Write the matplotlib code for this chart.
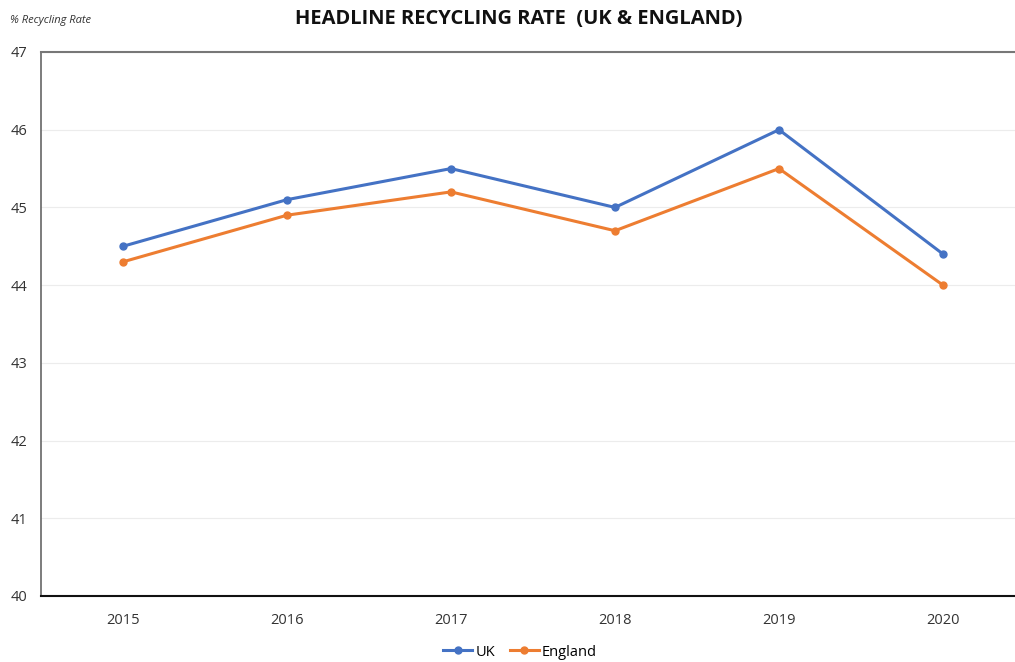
import matplotlib
matplotlib.use("Agg")
import matplotlib.pyplot as plt

years = ["2015", "2016", "2017", "2018", "2019", "2020"]
uk = [44.5, 45.1, 45.5, 45.0, 46.0, 44.4]
england = [44.3, 44.9, 45.2, 44.7, 45.5, 44.0]
yticks = [40, 41, 42, 43, 44, 45, 46, 47]

plt.rcParams['font.family'] = ['Open Sans', 'DejaVu Sans']

fig = plt.figure(figsize=(10.15, 6.62), dpi=100)
W, H = 1015, 662
left, right, top, bottom = 41, 1015, 52, 596
ax = fig.add_axes([left / W, 1 - bottom / H, (right - left) / W, (bottom - top) / H])

x = list(range(len(years)))
ax.plot(x, uk, color="#4472C4", lw=2.2, marker="o", ms=5, label="UK", solid_joinstyle="round")
ax.plot(x, england, color="#ED7D31", lw=2.2, marker="o", ms=5, label="England", solid_joinstyle="round")

ax.set_xlim(-0.5, -0.5 + (right - left) / 164)
ax.set_ylim(40, 47)
ax.set_yticks(yticks)
ax.set_xticks(x)
ax.set_xticklabels(years)
ax.tick_params(axis="both", length=0, labelsize=10.5, colors="#333333")
ax.tick_params(axis="x", pad=12)
ax.tick_params(axis="y", pad=10)
ax.grid(axis="y", color="#ececec", lw=0.8)
ax.set_axisbelow(True)

ax.spines["top"].set_color("#777777")
ax.spines["top"].set_linewidth(1.5)
ax.spines["left"].set_color("#666666")
ax.spines["left"].set_linewidth(1.2)
ax.spines["bottom"].set_color("#111111")
ax.spines["bottom"].set_linewidth(1.5)
ax.spines["right"].set_visible(False)

fig.text(519 / W, 1 - 19 / H, "HEADLINE RECYCLING RATE  (UK & ENGLAND)", ha="center", va="center",
         fontsize=14.5, fontweight="bold", color="#111111")
fig.text(10 / W, 1 - 20 / H, "% Recycling Rate", ha="left", va="center", fontsize=8,
         style="italic", color="#333333")

fig.legend(loc="center", bbox_to_anchor=(520 / W, 1 - 652 / H), ncol=2, frameon=False,
           fontsize=10.5, handlelength=2.0, handletextpad=0.2, columnspacing=1.0)

fig.savefig("out.png", dpi=100)
